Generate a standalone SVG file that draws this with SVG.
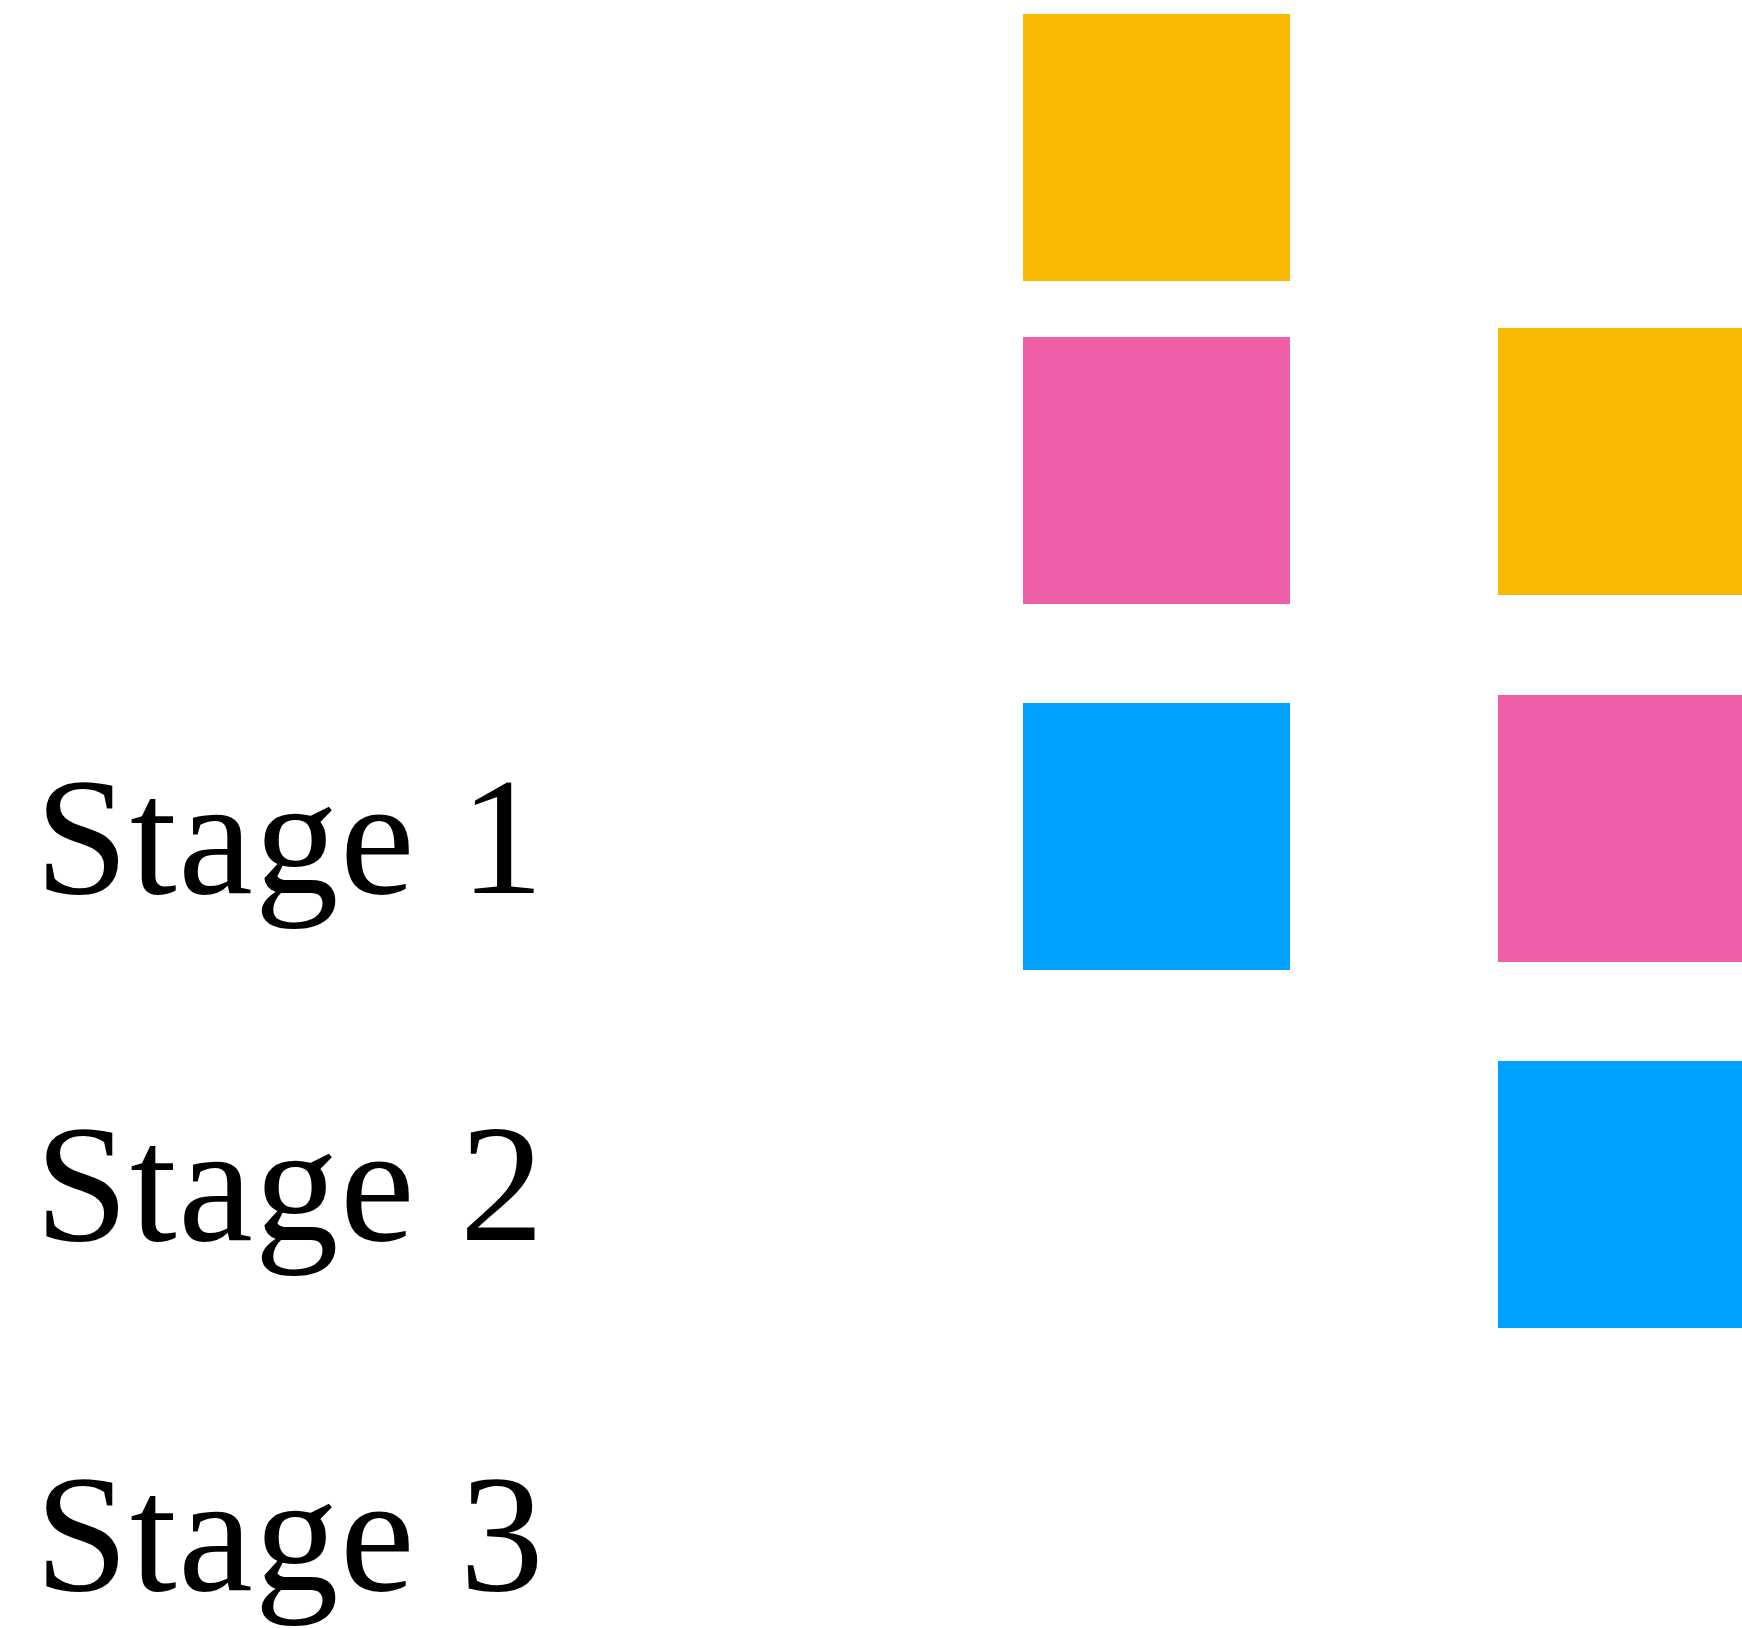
<svg xmlns="http://www.w3.org/2000/svg" width="1742" height="1628" viewBox="0 0 1742 1628">
<style>
.lbl{font-family:"Liberation Serif","DejaVu Serif",serif;font-size:168px;fill:#000;letter-spacing:1.6px}
.y{fill:#F7BA00}.p{fill:#EF5FA7}.b{fill:#00A2FF}
</style>
<rect width="1742" height="1628" fill="#fff"/>
<g id="labels">
<text class="lbl" x="35" y="893">Stage 1</text>
<text class="lbl" x="35" y="1240">Stage 2</text>
<text class="lbl" x="35" y="1590">Stage 3</text>
</g>
<g id="col1">
<rect id="y1" class="y" x="1023" y="14" width="267" height="267"/>
<rect id="p1" class="p" x="1023" y="337" width="267" height="267"/>
<rect id="b1" class="b" x="1023" y="703" width="267" height="267"/>
</g>
<g id="col2">
<rect id="y2" class="y" x="1498" y="328" width="267" height="267"/>
<rect id="p2" class="p" x="1498" y="695" width="267" height="267"/>
<rect id="b2" class="b" x="1498" y="1061" width="267" height="267"/>
</g>
<g id="connectors"/>
</svg>
